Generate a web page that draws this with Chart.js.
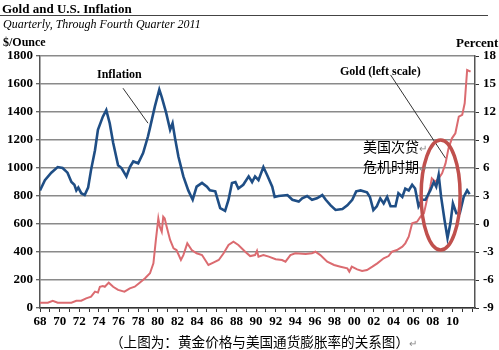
<!DOCTYPE html>
<html>
<head>
<meta charset="utf-8">
<script src="https://cdn.jsdelivr.net/npm/chart.js@4.4.1/dist/chart.umd.min.js"></script>
<style>
  body { margin: 0; background: #fff; }
  #wrap { position: relative; width: 499px; height: 350px; overflow: hidden; }
  canvas { position: absolute; left: 0; top: 0; }
  .t { position: absolute; white-space: nowrap; font-family: "Liberation Serif", serif; color: #000; line-height: 1; }
  .cn { position: absolute; white-space: nowrap; font-family: "Noto Sans CJK SC", sans-serif; color: #000; line-height: 1; }
  .ret { color: #888; font-size: 10px; }
</style>
</head>
<body>
<div id="wrap">
  <canvas id="chart" width="499" height="350"></canvas>
  <div class="t" style="left:2px;top:2px;font-weight:bold;font-size:13px">Gold and U.S. Inflation</div>
  <div style="position:absolute;left:0;top:15px;width:488px;border-top:1.5px solid #444"></div>
  <div class="t" style="left:3px;top:18px;font-style:italic;font-size:12px">Quarterly, Through Fourth Quarter 2011</div>
  <div class="t" style="left:3px;top:36px;font-weight:bold;font-size:12px">$/Ounce</div>
  <div class="t" style="left:456px;top:36px;font-weight:bold;font-size:13px">Percent</div>
  <div class="t" style="left:97px;top:68px;font-weight:bold;font-size:12px">Inflation</div>
  <div class="t" style="left:340px;top:65px;font-weight:bold;font-size:12px">Gold (left scale)</div>
  <div class="cn" style="left:363px;top:139px;font-size:14px">美国次贷<span class="ret">↵</span></div>
  <div class="cn" style="left:363px;top:159px;font-size:14px">危机时期<span class="ret">↵</span></div>
  <div class="cn" style="left:110px;top:335px;font-size:13.6px">（上图为：黄金价格与美国通货膨胀率的关系图）<span class="ret">↵</span></div>
</div>
<script>
// quarterly readings, x in decimal years
const inflYears = [1968.0, 1968.5, 1969.15, 1969.8, 1970.3, 1970.8, 1971.2, 1971.5, 1971.7, 1971.9,
  1972.2, 1972.55, 1972.9, 1973.2, 1973.6, 1973.9, 1974.4, 1974.75, 1975.1, 1975.45,
  1975.95, 1976.3, 1976.8, 1977.15, 1977.5, 1978.0, 1978.5, 1979.0, 1979.2, 1979.7,
  1980.15, 1980.4, 1980.85, 1981.25, 1981.5, 1981.75, 1982.1, 1982.6, 1983.1, 1983.55,
  1983.95, 1984.5, 1985.0, 1985.3, 1985.85, 1986.35, 1986.85, 1987.2, 1987.55, 1987.9,
  1988.2, 1988.7, 1989.25, 1989.6, 1989.9, 1990.25, 1990.75, 1991.15, 1991.65, 1991.9,
  1992.3, 1993.2, 1993.7, 1994.35, 1994.7, 1995.2, 1995.7, 1996.2, 1996.75, 1997.1,
  1997.6, 1998.1, 1998.8, 1999.3, 1999.8, 2000.2, 2000.65, 2001.3, 2001.6, 2001.95,
  2002.3, 2002.65, 2003.0, 2003.35, 2003.7, 2004.2, 2004.5, 2004.9, 2005.2, 2005.55,
  2005.9, 2006.2, 2006.55, 2006.9, 2007.25, 2007.75, 2008.1, 2008.35, 2008.6, 2008.85,
  2009.2, 2009.5, 2009.8, 2010.05, 2010.4, 2010.75, 2011.15, 2011.5, 2011.75]
const inflRate = [3.6, 4.7, 5.5, 6.1, 6.0, 5.5, 4.5, 4.2, 3.6, 3.9,
  3.3, 3.1, 3.9, 5.8, 7.9, 10.1, 11.5, 12.2, 10.8, 8.7,
  6.3, 6.0, 5.1, 6.1, 6.7, 6.5, 7.6, 9.4, 10.3, 12.6,
  14.4, 13.6, 11.9, 10.1, 10.8, 9.2, 7.2, 5.1, 3.6, 2.6,
  4.0, 4.4, 4.0, 3.6, 3.5, 1.7, 1.4, 2.6, 4.4, 4.5,
  3.8, 4.2, 5.1, 4.5, 5.1, 4.7, 6.1, 5.2, 4.0, 2.9,
  3.0, 3.1, 2.6, 2.4, 2.75, 3.0, 2.6, 2.75, 3.1, 2.6,
  2.0, 1.5, 1.6, 2.0, 2.6, 3.5, 3.6, 3.4, 2.9, 1.5,
  1.9, 2.75, 2.2, 2.9, 1.9, 1.9, 3.3, 2.9, 3.8, 3.6,
  4.2, 3.8, 1.9, 2.6, 2.6, 3.6, 4.5, 4.0, 5.25, 2.9,
  0.4, -1.5, 0.1, 2.2, 1.15, 1.15, 2.9, 3.6, 3.2]

const goldYears = [1968.0, 1968.8, 1969.3, 1969.8, 1971.2, 1971.7, 1972.2, 1972.7, 1973.2, 1973.6,
  1973.9, 1974.1, 1974.4, 1974.6, 1975.0, 1975.45, 1975.95, 1976.6, 1977.15, 1977.65,
  1978.15, 1978.7, 1979.2, 1979.55, 1979.8, 1980.05, 1980.2, 1980.4, 1980.55, 1980.7,
  1980.9, 1981.25, 1981.6, 1981.9, 1982.35, 1982.6, 1983.0, 1983.45, 1983.95, 1984.5,
  1985.15, 1985.65, 1986.2, 1986.7, 1987.2, 1987.7, 1988.2, 1988.9, 1989.4, 1989.9,
  1990.1, 1990.25, 1990.75, 1991.3, 1992.0, 1992.65, 1993.0, 1993.5, 1994.0, 1995.05,
  1995.7, 1996.05, 1996.55, 1997.25, 1997.95, 1998.6, 1999.3, 1999.5, 1999.75, 2000.3,
  2000.8, 2001.3, 2001.85, 2002.35, 2003.0, 2003.5, 2003.85, 2004.35, 2004.9, 2005.2,
  2005.55, 2005.9, 2006.4, 2006.75, 2007.1, 2007.4, 2007.75, 2007.9, 2008.25, 2008.6,
  2008.95, 2009.3, 2009.6, 2009.95, 2010.3, 2010.65, 2011.0, 2011.25, 2011.5, 2011.85]
const goldPrice = [38, 38, 52, 38, 38, 52, 52, 69, 81, 117,
  110, 152, 157, 152, 181, 152, 129, 117, 140, 152,
  181, 212, 248, 319, 486, 640, 581, 545, 652, 640,
  581, 486, 426, 414, 343, 378, 462, 414, 391, 378,
  307, 324, 343, 391, 450, 474, 450, 402, 371, 378,
  409, 367, 378, 367, 348, 343, 331, 378, 391, 386,
  391, 402, 378, 331, 307, 295, 283, 259, 295, 276,
  264, 271, 295, 319, 355, 371, 402, 414, 438, 462,
  509, 605, 616, 652, 676, 771, 866, 926, 902, 926,
  962, 1033, 1140, 1212, 1248, 1367, 1379, 1462, 1700, 1688]

const leftTicks = [0, 200, 400, 600, 800, 1000, 1200, 1400, 1600, 1800]
const rightTicks = [-9, -6, -3, 0, 3, 6, 9, 12, 15, 18]
const xLabelYears = [1968, 1970, 1972, 1974, 1976, 1978, 1980, 1982, 1984, 1986, 1988,
  1990, 1992, 1994, 1996, 1998, 2000, 2002, 2004, 2006, 2008, 2010]

const tickFont = { family: "Liberation Serif", weight: "bold", size: 13 }

// leader lines and the crisis ellipse, anchored on the scales
const notes = {
  id: "notes",
  afterDatasetsDraw(chart) {
    const { ctx, scales } = chart
    const x = scales.x, y = scales.y, yR = scales.yR
    ctx.save()
    ctx.strokeStyle = "#333"
    ctx.lineWidth = 1
    ctx.beginPath()
    ctx.moveTo(x.getPixelForValue(1976.45), y.getPixelForValue(1570))
    ctx.lineTo(x.getPixelForValue(1979.0), y.getPixelForValue(1320))
    ctx.moveTo(x.getPixelForValue(2003.7), y.getPixelForValue(1665))
    ctx.lineTo(x.getPixelForValue(2009.3), y.getPixelForValue(1070))
    ctx.stroke()
    ctx.strokeStyle = "#c0504d"
    ctx.lineWidth = 3.5
    ctx.beginPath()
    ctx.ellipse(x.getPixelForValue(2008.8), yR.getPixelForValue(3.1), 19.5, 55, 0, 0, Math.PI * 2)
    ctx.stroke()
    ctx.restore()
  },
}

new Chart(document.getElementById("chart"), {
  type: "line",
  data: {
    datasets: [
      {
        label: "Inflation",
        data: inflYears.map((yr, i) => ({ x: yr, y: inflRate[i] })),
        yAxisID: "yR",
        borderColor: "#1f4e85",
        borderWidth: 2.6,
        pointRadius: 0,
        tension: 0,
      },
      {
        label: "Gold (left scale)",
        data: goldYears.map((yr, i) => ({ x: yr, y: goldPrice[i] })),
        yAxisID: "y",
        borderColor: "#db6b70",
        borderWidth: 2,
        pointRadius: 0,
        tension: 0,
      },
    ],
  },
  options: {
    responsive: false,
    animation: false,
    devicePixelRatio: 1,
    layout: { padding: { top: 56, right: 0, left: 0, bottom: 0 } },
    plugins: { legend: { display: false }, tooltip: { enabled: false } },
    scales: {
      x: {
        type: "linear",
        min: 1968,
        max: 2012.3,
        afterFit: (s) => { s.height = 42 },
        border: { color: "#333", width: 1.5 },
        grid: { drawOnChartArea: false, tickLength: 4, color: "#333" },
        ticks: {
          stepSize: 1,
          includeBounds: false,
          autoSkip: false,
          maxRotation: 0,
          padding: 2,
          color: "#000",
          font: tickFont,
          callback: (v) => xLabelYears.includes(v) ? String(v).slice(2) : "",
        },
      },
      y: {
        position: "left",
        min: 0,
        max: 1800,
        afterFit: (s) => { s.width = 40 },
        afterBuildTicks: (s) => { s.ticks = leftTicks.map((v) => ({ value: v })) },
        border: { color: "#555", width: 1.5 },
        grid: { color: "#8a8a8a", lineWidth: 1.5, tickLength: 4, tickColor: "#333", tickWidth: 1 },
        ticks: { padding: 3, color: "#000", font: tickFont, callback: (v) => String(v) },
      },
      yR: {
        position: "right",
        min: -9,
        max: 18,
        afterFit: (s) => { s.width = 24 },
        afterBuildTicks: (s) => { s.ticks = rightTicks.map((v) => ({ value: v })) },
        border: { color: "#555", width: 1.5 },
        grid: { drawOnChartArea: false, tickLength: 4, color: "#333" },
        ticks: { padding: 4, color: "#000", font: tickFont, callback: (v) => String(v) },
      },
    },
  },
  plugins: [notes],
})
</script>
</body>
</html>
